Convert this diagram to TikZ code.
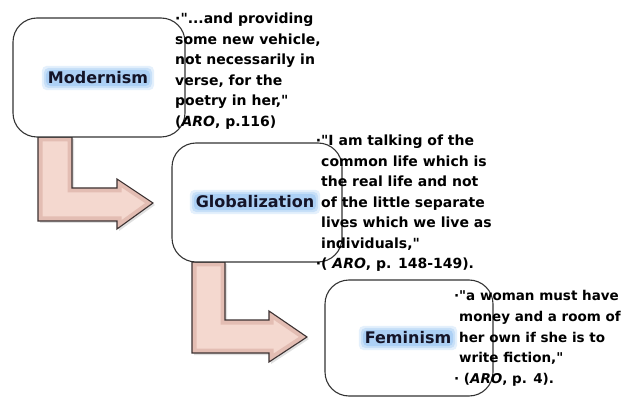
\documentclass[tikz,border=0pt]{standalone}
\usepackage{fontspec}
\setmainfont{DejaVu Sans}
\definecolor{arrowpink}{RGB}{244,216,207}
\definecolor{arrowrim}{RGB}{214,168,156}
\definecolor{arrowedge}{RGB}{60,50,50}
\definecolor{glowblue}{RGB}{120,180,240}
\definecolor{labelink}{RGB}{20,20,40}
\newcommand{\dq}{\textquotedbl}
\newcommand{\arrowonepath}{(38,137) -- (38,221) -- (117,221) -- (117,229) -- (153,203) -- (117,179) -- (117,188) -- (72,188) -- (72,137) -- cycle}
\newcommand{\arrowtwopath}{(192,262) -- (192,353) -- (269,353) -- (269,362) -- (307,337) -- (269,311) -- (269,320) -- (225,320) -- (225,262) -- cycle}
\tikzset{
  boxshape/.style={draw=black!80, line width=1.1pt, fill=white, rounded corners=24pt},
  arrowfill/.style={fill=arrowpink},
  arrowbevel/.style={draw=arrowrim, line width=9pt, opacity=0.55, line join=miter},
  arrowline/.style={draw=arrowedge, line width=1.1pt, line join=miter},
  arrowshadow/.style={fill=black, opacity=0.12},
  labeltext/.style={font=\fontsize{16}{19}\selectfont\bfseries, text=labelink, inner sep=1pt},
  glowlayer/.style={fill=glowblue, text opacity=0, rounded corners=5pt, font=\fontsize{16}{19}\selectfont\bfseries},
  quotetext/.style={font=\fontsize{14}{20.5}\selectfont\bfseries, align=left, anchor=north west, inner sep=0pt, text=black}
}
\begin{document}
\begin{tikzpicture}[x=1pt,y=-1pt]
\useasboundingbox (0,0) rectangle (624,398);
\fill[white] (0,0) rectangle (624,398);

% arrows
\begin{scope}[shift={(2,2)}]
  \path[arrowshadow] \arrowonepath;
  \path[arrowshadow] \arrowtwopath;
\end{scope}
\path[arrowfill] \arrowonepath;
\begin{scope}
  \clip \arrowonepath;
  \path[arrowbevel] \arrowonepath;
\end{scope}
\path[arrowline] \arrowonepath;
\path[arrowfill] \arrowtwopath;
\begin{scope}
  \clip \arrowtwopath;
  \path[arrowbevel] \arrowtwopath;
\end{scope}
\path[arrowline] \arrowtwopath;

% boxes
\draw[boxshape] (13,18) rectangle (185,137);
\draw[boxshape] (172,143) rectangle (342,262);
\draw[boxshape] (325,280) rectangle (493,396);

% glowing labels
\foreach \pad/\op [count=\i] in {6/0.2,4/0.25,2/0.35}{
  \node[glowlayer, inner sep=\pad pt, opacity=\op] (mg\i) at (98,78) {Modernism};
  \node[glowlayer, inner sep=\pad pt, opacity=\op] (gg\i) at (255,202) {Globalization};
  \node[glowlayer, inner sep=\pad pt, opacity=\op] (fg\i) at (408,338) {Feminism};
}
\node[labeltext] (mod) at (98,78) {Modernism};
\node[labeltext] (glob) at (255,202) {Globalization};
\node[labeltext] (fem) at (408,338) {Feminism};

% quotes
\node[quotetext] (q1) at (175,13) {·\dq...and providing\\some new vehicle,\\not necessarily in\\verse, for the\\poetry in her,\dq\\(\textit{ARO}, p.116)};
\node[quotetext] (q2) at (321,135) {\llap{·}\dq I am talking of the\\common life which is\\the real life and not\\of the little separate\\lives which we live as\\individuals,\dq\\\llap{·}( \textit{ARO}, p. 148-149).};
\node[quotetext, font=\fontsize{13.5}{20.8}\selectfont\bfseries] (q3) at (459,290) {\llap{·}\dq a woman must have\\money and a room of\\her own if she is to\\write fiction,\dq\\\llap{·}\ (\textit{ARO}, p. 4).};
\end{tikzpicture}
\end{document}
